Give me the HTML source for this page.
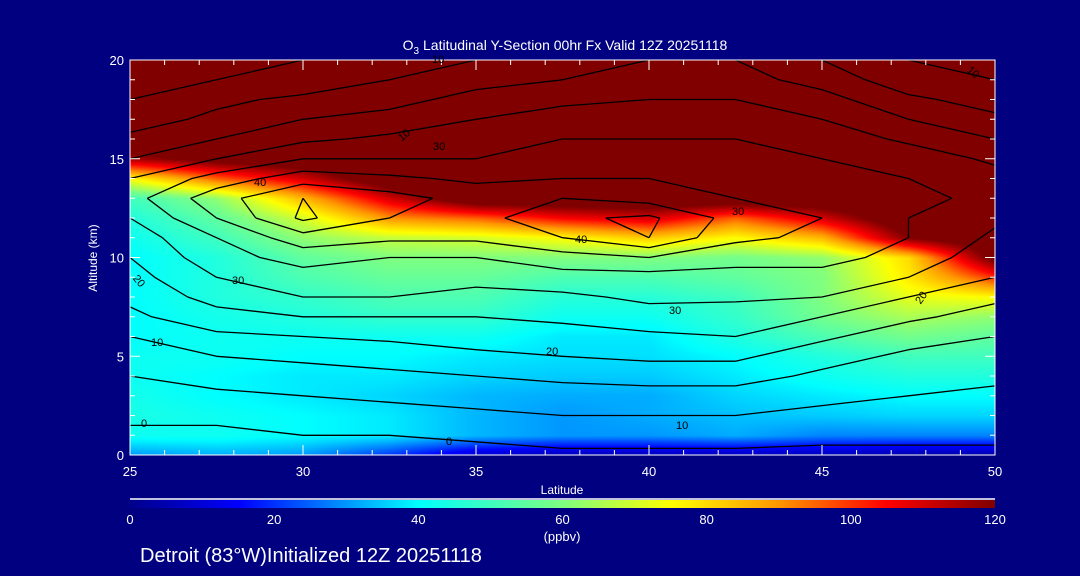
<!DOCTYPE html>
<html><head><meta charset="utf-8"><style>
body{margin:0;background:#000080;width:1080px;height:576px;overflow:hidden;font-family:"Liberation Sans",sans-serif;}
svg text{fill:#fff;font-family:"Liberation Sans",sans-serif;}
</style></head><body>
<div style="position:absolute;left:0;top:0;width:1080px;height:576px">
<canvas id="fill" width="865" height="395" style="position:absolute;left:130px;top:60px"></canvas>
<canvas id="cbar" width="865" height="8" style="position:absolute;left:130px;top:500px"></canvas>
<svg id="svg" width="1080" height="576" style="position:absolute;left:0;top:0">
<text x="565" y="50" font-size="14" text-anchor="middle">O<tspan font-size="10" dy="4">3</tspan><tspan dy="-4"> Latitudinal Y-Section 00hr  Fx Valid 12Z 20251118</tspan></text>
<text x="97" y="258" font-size="12" text-anchor="middle" transform="rotate(-90 97 258)">Altitude (km)</text>
<text x="562" y="494" font-size="12" text-anchor="middle">Latitude</text>
<line x1="130" y1="499" x2="995" y2="499" stroke="#fff" stroke-width="1.5"/>
<text x="562" y="541" font-size="13" text-anchor="middle">(ppbv)</text>
<text x="140" y="562" font-size="20">Detroit (83°W)Initialized 12Z 20251118</text>
<g id="contours"></g>
<g id="axes"></g>
<g font-size="11" fill="#000">
<text x="432" y="63" style="fill:#000" font-size="11">10</text>
<text x="398" y="138" style="fill:#000" font-size="11" transform="rotate(-40 405 135)">10</text>
<text x="433" y="150" style="fill:#000" font-size="11">30</text>
<text x="254" y="186" style="fill:#000" font-size="11">40</text>
<text x="232" y="284" style="fill:#000" font-size="11">30</text>
<text x="134" y="285" style="fill:#000" font-size="11" transform="rotate(50 140 280)">20</text>
<text x="151" y="346" style="fill:#000" font-size="11">10</text>
<text x="141" y="427" style="fill:#000" font-size="11">0</text>
<text x="446" y="445" style="fill:#000" font-size="11">0</text>
<text x="546" y="355" style="fill:#000" font-size="11">20</text>
<text x="669" y="314" style="fill:#000" font-size="11">30</text>
<text x="575" y="243" style="fill:#000" font-size="11">40</text>
<text x="732" y="215" style="fill:#000" font-size="11">30</text>
<text x="676" y="429" style="fill:#000" font-size="11">10</text>
<text x="914" y="302" style="fill:#000" font-size="11" transform="rotate(-55 920 297)">20</text>
<text x="967" y="75" style="fill:#000" font-size="11" transform="rotate(40 972 72)">10</text>
</g>
</svg>
</div>
<script>
const lats=[25,27.5,30,32.5,35,37.5,40,42.5,45,47.5,50];
const alts=[0,1,2,3,4,5,6,7,8,9,10,11,12,13,14,15,16,17,18,19,20];
const xTicks=[25,30,35,40,45,50];
const yTicks=[0,5,10,15,20];
const cbTicks=[0,20,40,60,80,100,120];
const contourLevels=[0,5,10,15,20,25,30,35,40,45];
// ozone (ppbv), rows by altitude 0..20, columns by latitude
const ozone=[
[30,32,30,20,8,5,5,5,5,3,3],
[42,42,40,38,33,30,30,32,28,28,28],
[44,42,40,38,33,30,32,34,35,36,36],
[43,40,38,36,33,32,32,36,38,40,40],
[42,40,38,38,36,35,35,38,42,45,45],
[42,42,40,40,38,37,37,40,45,50,50],
[40,42,42,42,42,38,38,45,52,58,55],
[40,43,45,48,48,42,42,48,58,65,62],
[40,45,48,52,52,46,46,50,60,72,75],
[40,45,52,56,56,52,52,55,60,78,100],
[40,45,55,60,60,60,60,58,62,80,125],
[42,50,62,68,70,75,82,75,85,120,130],
[45,55,70,90,95,105,110,95,110,130,130],
[50,62,85,110,130,130,130,130,130,130,130],
[75,95,110,130,130,130,130,130,130,130,130],
[115,125,130,130,130,130,130,130,130,130,130],
[130,130,130,130,130,130,130,130,130,130,130],
[130,130,130,130,130,130,130,130,130,130,130],
[130,130,130,130,130,130,130,130,130,130,130],
[130,130,130,130,130,130,130,130,130,130,130],
[130,130,130,130,130,130,130,130,130,130,130]];
// wind speed contours
const wind=[
[-3,-3,-3,-2,-2,-1,-1,-1,-1,-1,-1],
[-1,-1,0,0,1,2,2,2,1,1,1],
[1,1,2,3,4,5,5,5,4,3,2],
[2,4,5,6,7,8,8,8,6,5,4],
[5,7,8,9,10,11,12,12,9,7,6],
[8,10,11,12,14,15,16,16,12,9,8],
[10,14,15,16,17,18,19,20,16,12,10],
[14,18,20,20,20,21,23,22,20,16,13],
[16,22,25,25,23,24,26,26,25,20,16],
[18,25,28,28,27,28,28,28,28,25,20],
[20,28,32,30,30,33,35,32,32,28,22],
[22,30,38,36,36,40,45,36,34,30,24],
[25,35,46,40,38,44,46,38,35,30,26],
[28,38,45,42,38,40,38,35,34,32,28],
[25,32,38,36,34,35,35,34,32,30,27],
[20,25,30,30,30,32,32,32,30,28,24],
[16,20,24,26,28,30,30,30,28,24,20],
[13,16,20,22,25,27,28,28,25,20,16],
[10,14,16,18,22,24,25,25,22,16,13],
[8,10,12,15,18,20,22,22,18,12,10],
[5,8,10,12,15,18,20,20,15,10,8]];

const X0=130,X1=995,Y0=455,Y1=60;
const xs=lat=>X0+(lat-25)/(50-25)*(X1-X0);
const ys=a=>Y0-(a-0)/(20-0)*(Y0-Y1);
const stops=[[0,0,0,140],[15,0,0,255],[25,0,100,255],[40,0,255,255],[60,128,255,128],[75,255,255,0],[90,255,150,0],[105,255,0,0],[120,128,0,0]];
function cmap(v){
  if(v<=stops[0][0])return stops[0].slice(1);
  for(let i=1;i<stops.length;i++){if(v<=stops[i][0]){const a=stops[i-1],b=stops[i],t=(v-a[0])/(b[0]-a[0]);return [a[1]+t*(b[1]-a[1]),a[2]+t*(b[2]-a[2]),a[3]+t*(b[3]-a[3])];}}
  return stops[stops.length-1].slice(1);
}
function sample(grid,lat,alt){
  let fi=(lat-25)/2.5, fj=alt;
  let i=Math.min(Math.floor(fi),lats.length-2), j=Math.min(Math.floor(fj),alts.length-2);
  let tx=fi-i, ty=fj-j;
  return grid[j][i]*(1-tx)*(1-ty)+grid[j][i+1]*tx*(1-ty)+grid[j+1][i]*(1-tx)*ty+grid[j+1][i+1]*tx*ty;
}
const c=document.getElementById('fill').getContext('2d');
const W=865,H=395,img=c.createImageData(W,H);
for(let py=0;py<H;py++){const alt=(H-py)/H*20;for(let px=0;px<W;px++){const lat=25+px/W*25;const col=cmap(sample(ozone,lat,alt));const k=(py*W+px)*4;img.data[k]=col[0];img.data[k+1]=col[1];img.data[k+2]=col[2];img.data[k+3]=255;}}
c.putImageData(img,0,0);
const cb=document.getElementById('cbar').getContext('2d');
for(let px=0;px<865;px++){const col=cmap(px/865*120);cb.fillStyle=`rgb(${col[0]|0},${col[1]|0},${col[2]|0})`;cb.fillRect(px,0,1,8);}
const NS='http://www.w3.org/2000/svg';
const cg=document.getElementById('contours');
for(const lv of contourLevels){
  let d='';
  for(let j=0;j<alts.length-1;j++)for(let i=0;i<lats.length-1;i++){
    const v=[wind[j][i],wind[j][i+1],wind[j+1][i+1],wind[j+1][i]];
    const p=[[lats[i],alts[j]],[lats[i+1],alts[j]],[lats[i+1],alts[j+1]],[lats[i],alts[j+1]]];
    const pts=[];
    for(let e=0;e<4;e++){const a=v[e],b=v[(e+1)%4];if((a<lv)!==(b<lv)){const t=(lv-a)/(b-a);const A=p[e],B=p[(e+1)%4];pts.push([xs(A[0]+t*(B[0]-A[0])),ys(A[1]+t*(B[1]-A[1]))]);}}
    for(let k=0;k+1<pts.length;k+=2)d+=`M${pts[k][0].toFixed(1)},${pts[k][1].toFixed(1)}L${pts[k+1][0].toFixed(1)},${pts[k+1][1].toFixed(1)}`;
  }
  const path=document.createElementNS(NS,'path');
  path.setAttribute('d',d);path.setAttribute('stroke','#000');path.setAttribute('stroke-width','1.3');path.setAttribute('fill','none');
  
  
  cg.appendChild(path);
}
const ag=document.getElementById('axes');
const frame=document.createElementNS(NS,'rect');
frame.setAttribute('x',X0);frame.setAttribute('y',Y1);frame.setAttribute('width',X1-X0);frame.setAttribute('height',Y0-Y1);frame.setAttribute('fill','none');frame.setAttribute('stroke','#fff');


ag.appendChild(frame);
let td='';
for(let l=25;l<=50;l++){const x=xs(l),len=(l%5==0)?10:5;td+=`M${x},${Y0}v${-len}M${x},${Y1}v${len}`;}
for(let a=0;a<=20;a++){const y=ys(a),len=(a%5==0)?10:5;td+=`M${X0},${y}h${len}M${X1},${y}h${-len}`;}
const tp=document.createElementNS(NS,'path');tp.setAttribute('d',td);tp.setAttribute('stroke','#fff');


ag.appendChild(tp);
for(const l of xTicks){const t=document.createElementNS(NS,'text');t.setAttribute('x',xs(l));t.setAttribute('y',476);t.setAttribute('font-size','13');t.setAttribute('text-anchor','middle');t.textContent=l;


ag.appendChild(t);}
for(const a of yTicks){const t=document.createElementNS(NS,'text');t.setAttribute('x',124);t.setAttribute('y',ys(a)+5);t.setAttribute('font-size','13');t.setAttribute('text-anchor','end');t.textContent=a;


ag.appendChild(t);}
for(const v of cbTicks){const t=document.createElementNS(NS,'text');t.setAttribute('x',X0+v/120*(X1-X0));t.setAttribute('y',524);t.setAttribute('font-size','13');t.setAttribute('text-anchor','middle');t.textContent=v;


ag.appendChild(t);}
</script>
</body></html>
